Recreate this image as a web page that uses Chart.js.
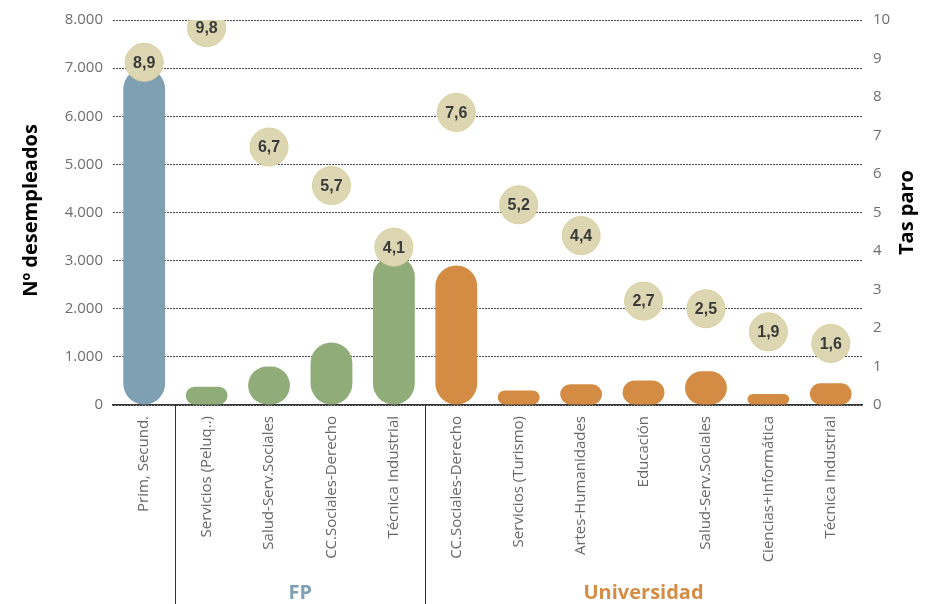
<!DOCTYPE html>
<html>
<head>
<meta charset="utf-8">
<script src="https://cdn.jsdelivr.net/npm/chart.js@4"></script>
<style>
  html, body { margin: 0; padding: 0; background: #ffffff; }
  #wrap { width: 928px; height: 604px; position: relative; }
</style>
</head>
<body>
<div id="wrap"><canvas id="c" width="928" height="604"></canvas></div>
<script>
const categories = ["Prim, Secund.", "Servicios (Peluq..)", "Salud-Serv.Sociales", "CC.Sociales-Derecho", "Técnica Industrial",
  "CC.Sociales-Derecho", "Servicios (Turismo)", "Artes-Humanidades", "Educación", "Salud-Serv.Sociales", "Ciencias+Informática", "Técnica Industrial"];
const desempleados = [7000, 380, 800, 1300, 3100, 2900, 300, 430, 510, 700, 230, 450];
const tasaParo = [8.9, 9.8, 6.7, 5.7, 4.1, 7.6, 5.2, 4.4, 2.7, 2.5, 1.9, 1.6];
const groups = ["Prim", "FP", "FP", "FP", "FP", "Univ", "Univ", "Univ", "Univ", "Univ", "Univ", "Univ"];
const groupLabels = [{ name: "FP", from: 1, to: 4 }, { name: "Universidad", from: 5, to: 11 }];
const leftTicks = [0, 1000, 2000, 3000, 4000, 5000, 6000, 7000, 8000];

const colors = { Prim: "#7f9fb3", FP: "#8fac79", Univ: "#d48c44" };
const groupColors = { FP: "#7f9fb3", Universidad: "#d48c44" };

const fmtThousands = v => String(v).replace(/\B(?=(\d{3})+(?!\d))/g, ".");

const overlay = {
  id: "overlay",
  afterDatasetsDraw(chart) {
    const ctx = chart.ctx;
    const meta = chart.getDatasetMeta(0);
    ctx.save();
    ctx.fillStyle = "#3a3a3a";
    ctx.font = "bold 16px 'Liberation Sans', Arial, sans-serif";
    ctx.textAlign = "center";
    ctx.textBaseline = "middle";
    meta.data.forEach((pt, i) => {
      ctx.fillText(String(tasaParo[i]).replace(".", ","), pt.x, pt.y + 1);
    });
    ctx.restore();
  },
  afterDraw(chart) {
    const ctx = chart.ctx;
    const x = chart.scales.x;
    const area = chart.chartArea;
    ctx.save();
    // separators
    ctx.strokeStyle = "#333333";
    ctx.lineWidth = 1;
    [0.5, 4.5].forEach(v => {
      const px = Math.round(x.getPixelForValue(v)) + 0.5;
      ctx.beginPath();
      ctx.moveTo(px, area.bottom);
      ctx.lineTo(px, chart.height);
      ctx.stroke();
    });
    // group labels
    ctx.font = "bold 20px 'Open Sans', sans-serif";
    ctx.textAlign = "center";
    ctx.textBaseline = "alphabetic";
    groupLabels.forEach(g => {
      const cx = (x.getPixelForValue(g.from) + x.getPixelForValue(g.to)) / 2;
      ctx.fillStyle = groupColors[g.name];
      ctx.fillText(g.name, cx, 599);
    });
    // axis titles (both read bottom-to-top)
    ctx.fillStyle = "#000000";
    ctx.font = "bold 20px 'Open Sans', sans-serif";
    ctx.textBaseline = "middle";
    const cy = (area.top + area.bottom) / 2;
    ctx.save();
    ctx.translate(31, cy - 2);
    ctx.rotate(-Math.PI / 2);
    ctx.fillText("Nº desempleados", 0, 0);
    ctx.restore();
    ctx.save();
    ctx.translate(907, cy);
    ctx.rotate(-Math.PI / 2);
    ctx.fillText("Tas paro", 0, 0);
    ctx.restore();
    ctx.restore();
  }
};

new Chart(document.getElementById("c"), {
  data: {
    labels: categories,
    datasets: [
      {
        type: "line",
        label: "Tasa paro",
        data: tasaParo,
        yAxisID: "y2",
        showLine: false,
        pointRadius: 19,
        pointHoverRadius: 19,
        pointBackgroundColor: "#ddd6b2",
        pointBorderColor: "#d8cf9e",
        pointBorderWidth: 1,
        order: 0
      },
      {
        type: "bar",
        label: "Nº desempleados",
        data: desempleados,
        yAxisID: "y",
        backgroundColor: groups.map(g => colors[g]),
        borderRadius: 21,
        borderSkipped: false,
        barPercentage: 0.67,
        categoryPercentage: 1.0,
        order: 1
      }
    ]
  },
  options: {
    responsive: false,
    animation: false,
    devicePixelRatio: 1,
    layout: { padding: { top: 17, left: 0, right: 0, bottom: 0 } },
    plugins: { legend: { display: false }, tooltip: { enabled: false } },
    scales: {
      x: {
        grid: { display: false },
        border: { display: true, color: "#333333", width: 1.5 },
        ticks: {
          color: "#666666",
          font: { family: "'Open Sans', sans-serif", size: 15 },
          maxRotation: 90,
          minRotation: 90,
          autoSkip: false,
          padding: 3
        },
        afterFit(s) { s.height = 199; }
      },
      y: {
        position: "left",
        min: 0,
        max: 8000,
        afterBuildTicks(s) { s.ticks = leftTicks.map(v => ({ value: v })); },
        grid: { color: "#4a4a4a", lineWidth: 1, drawTicks: false },
        border: { display: false, dash: [2, 1] },
        ticks: {
          color: "#6e6e6e",
          font: { family: "'Open Sans', sans-serif", size: 15 },
          padding: 10,
          callback: v => fmtThousands(v)
        },
        afterFit(s) { s.width = 113; }
      },
      y2: {
        position: "right",
        min: 0,
        max: 10,
        ticks: {
          stepSize: 1,
          color: "#6e6e6e",
          font: { family: "'Open Sans', sans-serif", size: 15 },
          padding: 11
        },
        grid: { display: false, drawTicks: false },
        border: { display: false },
        afterFit(s) { s.width = 66; }
      }
    }
  },
  plugins: [overlay]
});
</script>
</body>
</html>
